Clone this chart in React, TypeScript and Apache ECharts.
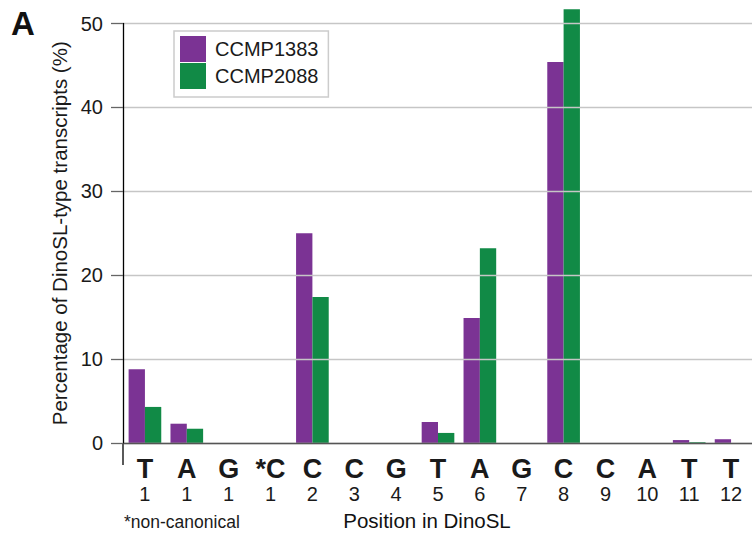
import React, { useEffect, useRef } from "react";
import * as echarts from "echarts";

const bases = ["T", "A", "G", "*C", "C", "C", "G", "T", "A", "G", "C", "C", "A", "T", "T"];
const positions = ["1", "1", "1", "1", "2", "3", "4", "5", "6", "7", "8", "9", "10", "11", "12"];
const ccmp1383 = [8.8, 2.3, 0, 0, 25.0, 0, 0, 2.5, 14.9, 0, 45.4, 0, 0, 0.35, 0.45];
const ccmp2088 = [4.3, 1.7, 0, 0, 17.4, 0, 0, 1.2, 23.2, 0, 51.7, 0, 0, 0.1, 0];
const yTicks = [0, 10, 20, 30, 40, 50];

const FONT = "'Liberation Sans', Arial, Helvetica, sans-serif";

export default function App() {
  const ref = useRef<HTMLDivElement>(null);
  useEffect(() => {
    if (!ref.current) return;
    const chart = echarts.init(ref.current, null, { renderer: "svg" });
    const categories = bases.map((b, i) => b + "|" + positions[i]);
    chart.setOption({
      animation: false,
      textStyle: { fontFamily: FONT },
      grid: { left: 124, right: -6, top: 23.5, bottom: 94, containLabel: false },
      legend: {
        orient: "vertical",
        left: 174,
        top: 31,
        icon: "rect",
        itemWidth: 26,
        itemHeight: 26,
        itemGap: 1,
        padding: [5, 10, 8, 6],
        borderColor: "#cccccc",
        borderWidth: 1.5,
        textStyle: { fontSize: 20, color: "#1a1a1a", fontFamily: FONT, padding: [0, 0, 0, 4] },
        data: ["CCMP1383", "CCMP2088"],
      },
      xAxis: {
        type: "category",
        data: categories,
        z: 3,
        axisLine: { lineStyle: { color: "#555", width: 1.3 } },
        axisTick: { alignWithLabel: true, length: 10, lineStyle: { color: "#777", width: 1.3 } },
        axisLabel: {
          margin: 12,
          interval: 0,
          formatter: (v: string) => {
            const [b, p] = v.split("|");
            return "{l|" + b + "}\n{n|" + p + "}";
          },
          rich: {
            l: { fontSize: 27, fontWeight: "bold", color: "#1a1a1a", lineHeight: 28, fontFamily: FONT },
            n: { fontSize: 20, color: "#1a1a1a", lineHeight: 22, fontFamily: FONT },
          },
        },
        name: "Position in DinoSL",
        nameLocation: "middle",
        nameGap: 67,
        nameTextStyle: { fontSize: 20.5, color: "#111", padding: [0, 22, 0, 0], fontFamily: FONT },
      },
      yAxis: {
        type: "value",
        min: 0,
        max: 50,
        interval: 10,
        offset: 1,
        z: 3,
        axisLine: { show: true, lineStyle: { color: "#000", width: 1.3 } },
        axisTick: { show: true, length: 12, lineStyle: { color: "#666", width: 1.3 } },
        axisLabel: {
          margin: 20,
          fontSize: 20,
          color: "#1a1a1a",
          fontFamily: FONT,
          customValues: yTicks,
        },
        splitLine: { show: true, lineStyle: { color: "#c6c6c6", width: 1.3 } },
        name: "Percentage of DinoSL-type transcripts (%)",
        nameLocation: "middle",
        nameGap: 50,
        nameRotate: 90,
        nameTextStyle: { fontSize: 20.5, color: "#1a1a1a", fontFamily: FONT, padding: [12, 0, 0, 0] },
      },
      series: [
        {
          name: "CCMP1383",
          type: "bar",
          data: ccmp1383,
          barGap: "0%",
          barCategoryGap: "22%",
          clip: false,
          itemStyle: { color: "#7b3394" },
        },
        {
          name: "CCMP2088",
          type: "bar",
          data: ccmp2088,
          barGap: "0%",
          barCategoryGap: "22%",
          clip: false,
          itemStyle: { color: "#118a46" },
        },
      ],
      graphic: [
        {
          type: "line",
          shape: { x1: 123, y1: 443, x2: 123, y2: 465 },
          style: { stroke: "#000", lineWidth: 1.3 },
        },
        {
          type: "text",
          left: 11,
          top: 7,
          style: { text: "A", fontSize: 33, fontWeight: "bold", fill: "#111", fontFamily: FONT },
        },
        {
          type: "text",
          left: 124,
          top: 513,
          style: { text: "*non-canonical", fontSize: 17.5, fill: "#1a1a1a", fontFamily: FONT },
        },
      ],
    });
    return () => chart.dispose();
  }, []);
  return <div ref={ref} style={{ width: 752, height: 537, position: "absolute", left: 0, top: 0 }} />;
}
